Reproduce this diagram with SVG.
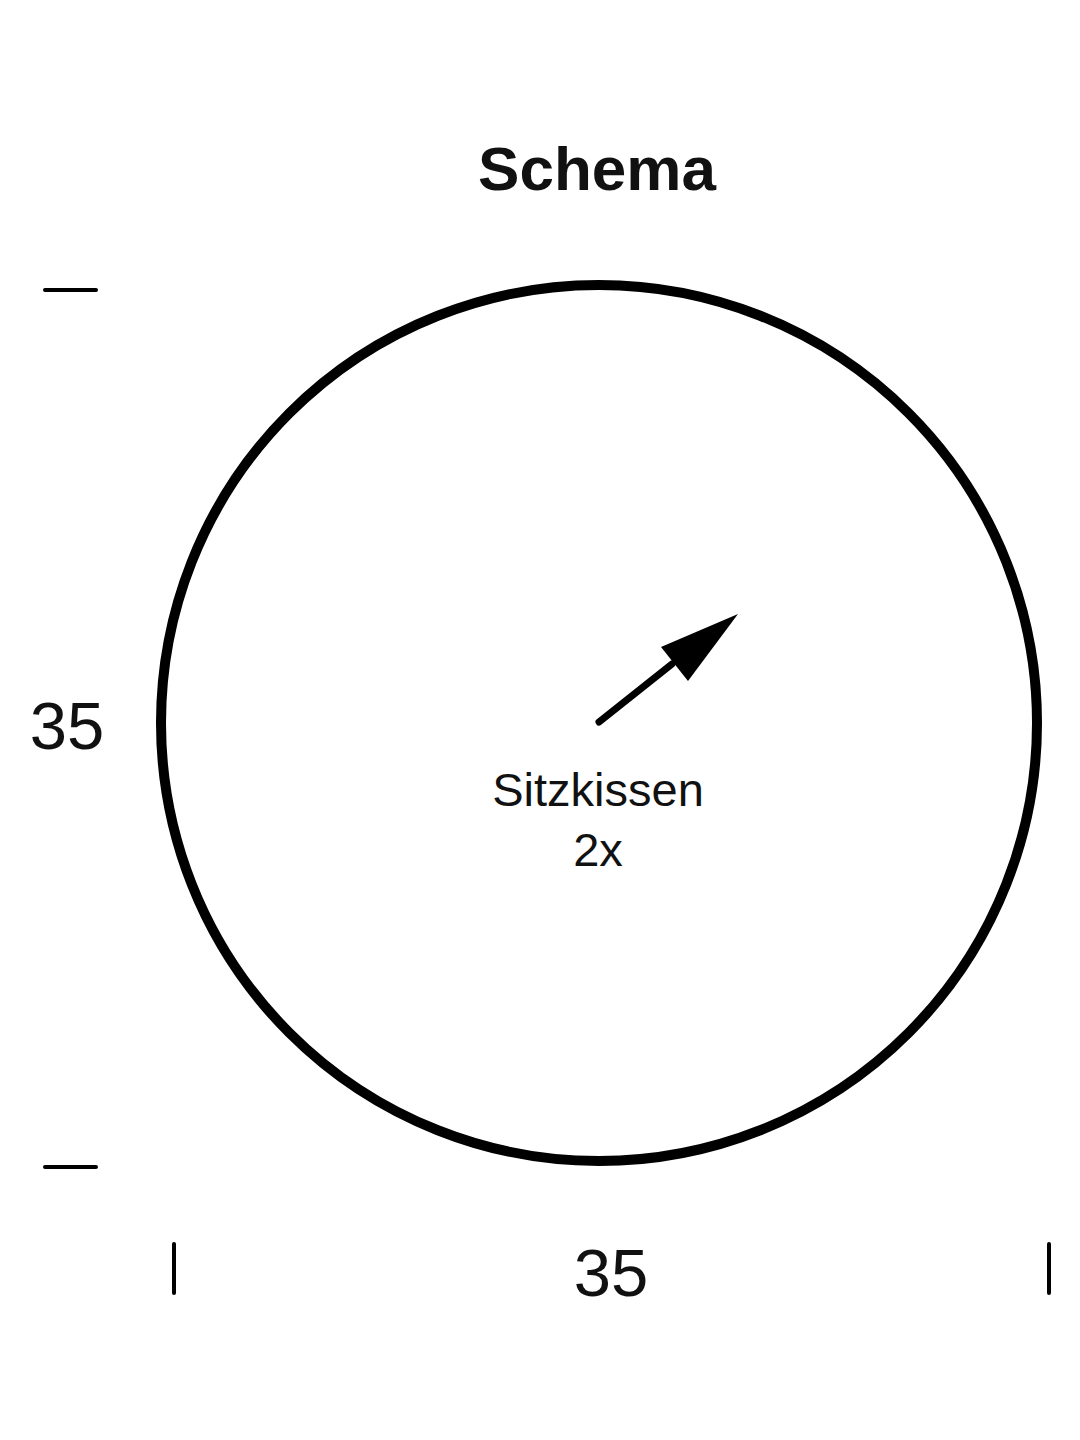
<svg xmlns="http://www.w3.org/2000/svg" width="1080" height="1440" viewBox="0 0 1080 1440">
<style>
.t{font-family:"Liberation Sans",Arial,sans-serif;fill:#111;text-anchor:middle}
.tick{stroke:#000;stroke-width:4;stroke-linecap:round}
</style>
<rect width="1080" height="1440" fill="#fff"/>
<text class="t" x="597" y="190" font-size="62" font-weight="bold">Schema</text>
<g id="cushion">
<circle cx="599" cy="723" r="438" fill="none" stroke="#000" stroke-width="10"/>
<text class="t" x="598" y="806" font-size="47">Sitzkissen</text>
<text class="t" x="598" y="866" font-size="47">2x</text>
</g>
<g id="connectors">
<line x1="599" y1="722" x2="672" y2="664" stroke="#000" stroke-width="7" stroke-linecap="round"/>
<polygon points="738,614 661,647 688,681" fill="#000"/>
</g>
<g id="dimensions">
<line class="tick" x1="45" y1="290" x2="96" y2="290"/>
<line class="tick" x1="45" y1="1167" x2="96" y2="1167"/>
<line class="tick" x1="174" y1="1244" x2="174" y2="1293"/>
<line class="tick" x1="1049" y1="1244" x2="1049" y2="1293"/>
<text class="t" x="67" y="749" font-size="67">35</text>
<text class="t" x="611" y="1296" font-size="67">35</text>
</g>
</svg>
